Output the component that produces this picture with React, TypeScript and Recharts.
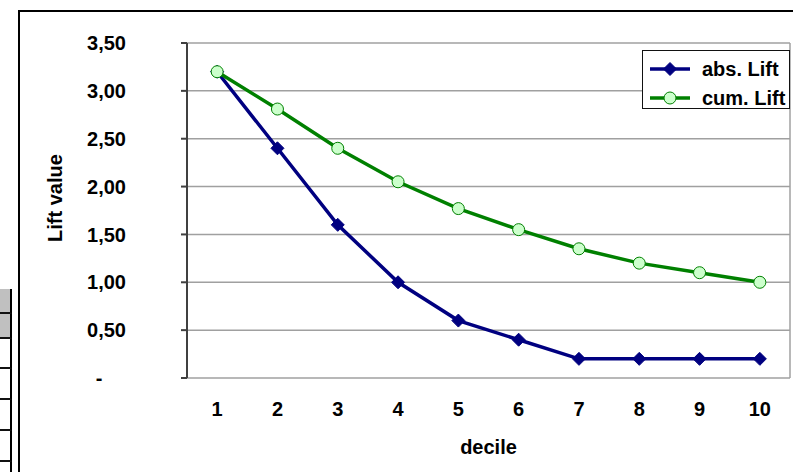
import {LineChart, Line, XAxis, YAxis, CartesianGrid, Legend, ReferenceLine} from 'recharts';

const deciles = [1, 2, 3, 4, 5, 6, 7, 8, 9, 10];
const absLift = [3.2, 2.4, 1.6, 1.0, 0.6, 0.4, 0.2, 0.2, 0.2, 0.2];
const cumLift = [3.2, 2.81, 2.4, 2.05, 1.77, 1.55, 1.35, 1.2, 1.1, 1.0];
const yTicks = [0, 0.5, 1, 1.5, 2, 2.5, 3, 3.5];
const seriesNames = ['abs. Lift', 'cum. Lift'];

const NAVY = '#000080';
const GREEN = '#008000';
const FONT = '"Liberation Sans", Arial, sans-serif';

const data = deciles.map((d, i) => ({decile: d, abs: absLift[i], cum: cumLift[i]}));
// tick marks sit between the categories, like Excel
const boundaries = [...deciles.map(d => d - 0.5), deciles[deciles.length - 1] + 0.5];

const labelStyle = {fontSize: 20, fontWeight: 'bold', fill: '#000', fontFamily: FONT};

function Diamond({cx, cy}: any) {
  if (cx == null || cy == null) return null;
  const s = 6.5;
  return <path d={`M${cx},${cy - s}L${cx + s},${cy}L${cx},${cy + s}L${cx - s},${cy}Z`} fill={NAVY} stroke={NAVY} />;
}

function YTick({x, y, payload}: any) {
  const v = payload.value;
  const txt = v === 0 ? '-' : v.toFixed(2).replace('.', ',');
  return (
    <text x={v === 0 ? x - 27 : x} y={y} dy="0.36em" textAnchor={v === 0 ? 'middle' : 'end'} style={labelStyle}>
      {txt}
    </text>
  );
}

function LegendBox() {
  return (
    <div style={{width: 148, height: 59, border: '1.5px solid #111', background: '#fff', paddingTop: 3, boxSizing: 'border-box'}}>
      {seriesNames.map((name, i) => (
        <div key={name} style={{display: 'flex', alignItems: 'center', height: 29}}>
          <svg width={52} height={20} style={{marginLeft: 7}}>
            <line x1={0} y1={10} x2={40} y2={10} stroke={i === 0 ? NAVY : GREEN} strokeWidth={3.5} />
            {i === 0
              ? <Diamond cx={20} cy={10} />
              : <circle cx={20} cy={10} r={6} fill="#ccffcc" stroke={GREEN} strokeWidth={1} />}
          </svg>
          <span style={{fontFamily: FONT, fontWeight: 'bold', fontSize: 20, color: '#000', lineHeight: '20px'}}>{name}</span>
        </div>
      ))}
    </div>
  );
}

function SheetCells() {
  const rows = [
    {h: 25, bg: '#c0c0c0'},
    {h: 25, bg: '#c0c0c0'},
    {h: 30, bg: '#fff'},
    {h: 31, bg: '#fff'},
    {h: 31, bg: '#fff'},
    {h: 31, bg: '#fff'},
    {h: 31, bg: '#fff'},
  ];
  return (
    <div style={{position: 'absolute', left: 0, top: 289, width: 12}}>
      {rows.map((r, i) => (
        <div key={i} style={{height: r.h, background: r.bg, borderRight: '2px solid #000', borderBottom: '2px solid #111', boxSizing: 'border-box'}} />
      ))}
    </div>
  );
}

export default function App() {
  return (
    <div style={{position: 'absolute', left: 0, top: 0, width: 793, height: 472, overflow: 'hidden', background: '#fff'}}>
      <SheetCells />
      <div style={{position: 'absolute', left: 18, top: 10, width: 820, height: 520, border: '2px solid #000'}} />
      <div style={{position: 'absolute', left: 0, top: 0}}>
        <LineChart width={793} height={472} data={data} margin={{top: 43, right: 3, bottom: 0, left: 127}}>
          <CartesianGrid xAxisId="lbl" vertical={false} stroke="#a0a0a0" strokeWidth={1.5} />
          <XAxis
            xAxisId="marks"
            dataKey="decile"
            type="number"
            domain={[0.5, 10.5]}
            ticks={boundaries}
            tick={false}
            height={0}
            tickSize={6}
            stroke="#404040"
            strokeWidth={2}
          />
          <XAxis
            xAxisId="lbl"
            dataKey="decile"
            type="number"
            domain={[0.5, 10.5]}
            ticks={deciles}
            interval={0}
            height={94}
            axisLine={false}
            tickLine={false}
            tickSize={0}
            tickMargin={24}
            tick={labelStyle}
            label={{value: 'decile', position: 'insideBottom', offset: 18, style: labelStyle}}
          />
          <YAxis
            width={60}
            domain={[0, 3.5]}
            ticks={yTicks}
            interval={0}
            tick={<YTick />}
            tickSize={6}
            tickMargin={55}
            stroke="#404040"
            strokeWidth={2}
            label={{
              content: () => (
                <text x={62} y={198} transform="rotate(-90 62 198)" textAnchor="middle" style={labelStyle}>
                  Lift value
                </text>
              ),
            }}
          />
          <ReferenceLine xAxisId="lbl" x={10.5} stroke="#a0a0a0" strokeWidth={1.5} />
          <Legend
            layout="vertical"
            align="center"
            verticalAlign="middle"
            content={<LegendBox />}
            wrapperStyle={{left: 642, top: 50, width: 150}}
          />
          <Line
            xAxisId="lbl"
            dataKey="abs"
            name={seriesNames[0]}
            stroke={NAVY}
            strokeWidth={3.5}
            dot={<Diamond />}
            activeDot={false}
            isAnimationActive={false}
          />
          <Line
            xAxisId="lbl"
            dataKey="cum"
            name={seriesNames[1]}
            stroke={GREEN}
            strokeWidth={3.5}
            dot={{r: 6, fill: '#ccffcc', stroke: GREEN, strokeWidth: 1}}
            activeDot={false}
            isAnimationActive={false}
          />
        </LineChart>
      </div>
    </div>
  );
}
